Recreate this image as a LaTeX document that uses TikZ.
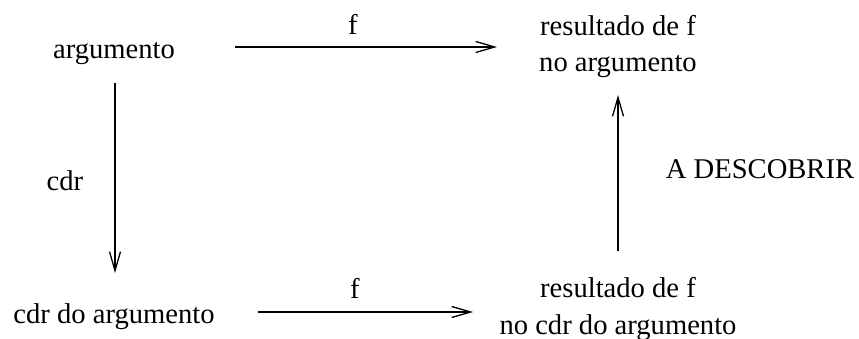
\documentclass[tikz,border=0pt]{standalone}
\usepackage{fontspec}
\setmainfont{Liberation Serif}
\usetikzlibrary{arrows.meta}

\begin{document}
\begin{tikzpicture}[x=1pt, y=-1pt,
    rotulo/.style={font=\fontsize{28.6}{36.5}\selectfont, inner sep=0pt, anchor=base},
    bloco/.style={rotulo, align=center},
    seta/.style={line width=1.3pt, -{Straight Barb[length=19pt, width=11pt, line width=1.3pt]}}]

\useasboundingbox (0,0) rectangle (859,339);

% Texts (two-line blocks sit on their last baseline)
\node[rotulo] (arg) at (114,59) {argumento};
\node[bloco] (res) at (618,72) {resultado de f\\no argumento};
\node[rotulo] (cdrarg) at (114,323) {cdr do argumento};
\node[bloco] (rescdr) at (618,334) {resultado de f\\no cdr do argumento};
\node[rotulo] (lcdr) at (65,190) {cdr};
\node[rotulo] (ldesc) at (760,179) {A DESCOBRIR};
\node[rotulo] (lf1) at (353,35) {f};
\node[rotulo] (lf2) at (355,298) {f};

% Arrow ends
\coordinate (a1) at (235,47);   \coordinate (a2) at (497,47);
\coordinate (b1) at (258,312);  \coordinate (b2) at (473,312);
\coordinate (c1) at (115,83);   \coordinate (c2) at (115,273);
\coordinate (d1) at (618,251);  \coordinate (d2) at (618,95);

% Arrows
\draw[seta] (a1) -- (a2);
\draw[seta] (b1) -- (b2);
\draw[seta] (c1) -- (c2);
\draw[seta] (d1) -- (d2);

\end{tikzpicture}
\end{document}
